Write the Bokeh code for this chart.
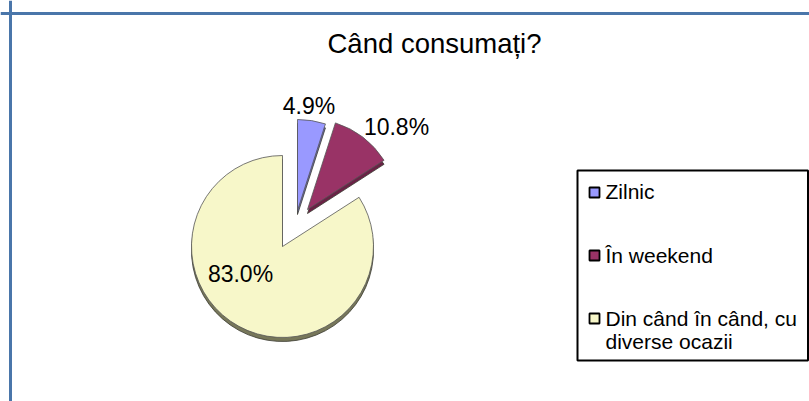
import numpy as np
from bokeh.plotting import figure
from bokeh.models import Range1d, ColumnDataSource, Span
from bokeh.core.properties import value
from bokeh.embed import file_html
from bokeh.resources import INLINE

# ---- data ----
title = "Când consumați?"
categories = ["Zilnic", "În weekend", "Din când în când, cu diverse ocazii"]
legend_lines = [["Zilnic"], ["În weekend"], ["Din când în când, cu", "diverse ocazii"]]
percents = [4.9, 10.8, 83.0]

# ---- style ----
colors = ["#9999FF", "#993366", "#F7F7C9"]
depth_colors = ["#6A6AB8", "#6A2246", "#77775A"]
W, H = 809, 401
FONT = "Liberation Sans"
TXT_SHIFT = 7  # baseline correction

def px(X):  # page x -> data x
    return X

def py(Y):  # page y -> data y
    return H - Y

center = (px(282), py(246))
R = 91
explode = [(15, 36), (25, 37), (0, 0)]          # pixel offsets of exploded slices
label_off = [(11.5, 98), (89, 76), (-42, -34)]  # label offsets from slice apex
depth = 4

vals = np.array(percents, dtype=float)
frac = vals / vals.sum()
cum = np.concatenate([[0], np.cumsum(frac)])
starts = np.pi / 2 - 2 * np.pi * cum[1:]
ends = np.pi / 2 - 2 * np.pi * cum[:-1]
xs = [center[0] + e[0] for e in explode]
ys = [center[1] + e[1] for e in explode]

p = figure(width=W, height=H, output_backend="svg", toolbar_location=None,
           x_range=Range1d(0, W), y_range=Range1d(0, H),
           min_border=0, x_axis_location=None, y_axis_location=None)
p.grid.visible = False
p.outline_line_color = None
p.background_fill_color = "white"
p.border_fill_color = "white"

# chart border (blue)
p.add_layout(Span(location=py(13), dimension="width", line_color="#4A76AA", line_width=3))
p.add_layout(Span(location=px(10), dimension="height", line_color="#4A76AA", line_width=3))

# depth (3D edge)
src_d = ColumnDataSource(dict(x=xs, y=[y - depth for y in ys], s=starts, e=ends, c=depth_colors))
p.wedge(x="x", y="y", radius=R, radius_units="screen", start_angle="s", end_angle="e",
        fill_color="c", line_color="#3A3A30", line_width=0.8, source=src_d)
src = ColumnDataSource(dict(x=xs, y=ys, s=starts, e=ends, c=colors))
p.wedge(x="x", y="y", radius=R, radius_units="screen", start_angle="s", end_angle="e",
        fill_color="c", line_color="#555555", line_width=0.8, source=src)

# percentage labels
lab = [f"{v:.1f}%" for v in percents]
p.text(x=[xs[i] + label_off[i][0] for i in range(3)],
       y=[ys[i] + label_off[i][1] + TXT_SHIFT for i in range(3)], text=lab,
       text_font=value(FONT), text_font_size="23px", text_color="black",
       text_align="center", text_baseline="alphabetic")

# title
p.text(x=[px(434)], y=[py(50) + TXT_SHIFT], text=[title], text_font=value(FONT),
       text_font_size="27.5px", text_align="center", text_baseline="alphabetic")

# legend
p.quad(left=px(577), right=px(807.5), top=py(170), bottom=py(360),
       fill_color=None, line_color="black", line_width=2)
marker_y = [py(192), py(255), py(318)]
p.scatter(x=[px(594)] * 3, y=marker_y, marker="square", size=10,
          fill_color=colors, line_color="black", line_width=1.8)
first_base = [py(198), py(262), py(325)]
tx, ty, tt = [], [], []
for i, lines in enumerate(legend_lines):
    for j, ln in enumerate(lines):
        tx.append(px(605))
        ty.append(first_base[i] - 23 * j + TXT_SHIFT)
        tt.append(ln)
p.text(x=tx, y=ty, text=tt, text_font=value(FONT), text_font_size="21px",
       text_align="left", text_baseline="alphabetic")

open("out.html", "w").write(file_html(p, INLINE))
